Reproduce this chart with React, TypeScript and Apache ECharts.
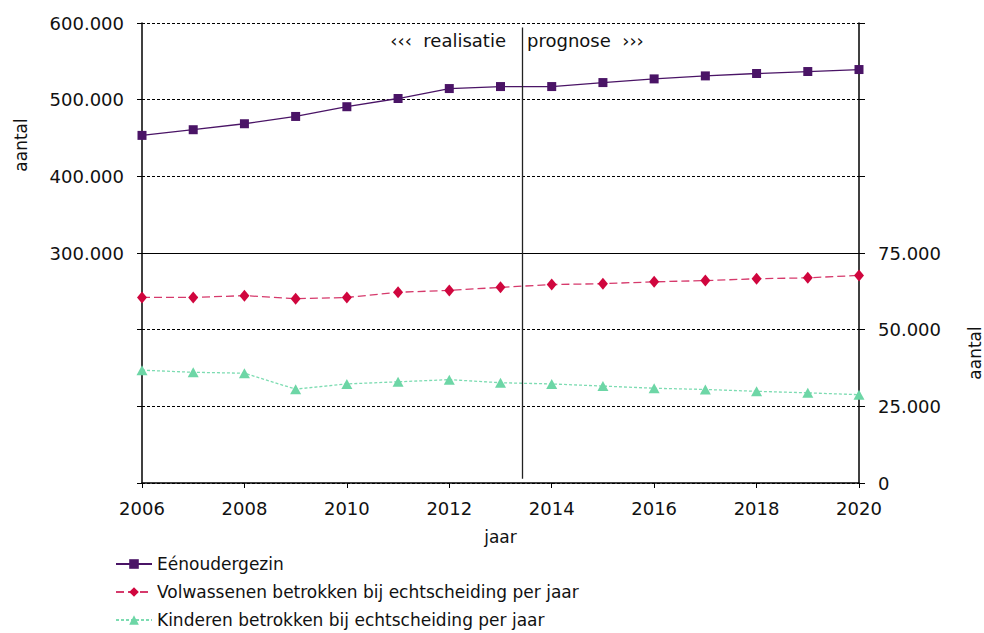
import React, { useEffect, useRef } from "react";
import * as echarts from "echarts";

const years = [2006, 2007, 2008, 2009, 2010, 2011, 2012, 2013, 2014, 2015, 2016, 2017, 2018, 2019, 2020];
const eenoudergezin = [453400, 460800, 468600, 478100, 490800, 501500, 514500, 517100, 517100, 522300, 527100, 531000, 534100, 536700, 539300];
const volwassenen = [60500, 60500, 61100, 60100, 60500, 62200, 62800, 63800, 64700, 65000, 65600, 66000, 66600, 66900, 67700];
const kinderen = [36800, 36100, 35800, 30600, 32300, 33000, 33700, 32700, 32300, 31600, 30900, 30500, 29900, 29400, 28800];
const seriesNames = [
  "Eénoudergezin",
  "Volwassenen betrokken bij echtscheiding per jaar",
  "Kinderen betrokken bij echtscheiding per jaar",
];
const splitYear = 2013.42;
const leftLabelMin = 300000;
const rightLabelMax = 75000;

const FONT = "DejaVu Sans, Verdana, sans-serif";

function fmt(v: number): string {
  const s = Math.round(v).toString();
  return s.replace(/\B(?=(\d{3})+(?!\d))/g, ".");
}

export default function App() {
  const ref = useRef<HTMLDivElement>(null);
  useEffect(() => {
    if (!ref.current) return;
    const chart = echarts.init(ref.current, null, { renderer: "svg" });
    const axisText = { color: "#111", fontFamily: FONT, fontSize: 18 };
    chart.setOption({
      animation: false,
      backgroundColor: "#fff",
      textStyle: { fontFamily: FONT },
      grid: { left: 142, right: 125, top: 23, bottom: 150 },
      legend: {
        orient: "vertical",
        left: 115,
        top: 555,
        padding: 0,
        itemWidth: 36,
        itemHeight: 12,
        itemGap: 10,
        textStyle: { color: "#111", fontFamily: FONT, fontSize: 17, lineHeight: 18 },
        data: seriesNames,
      },
      xAxis: {
        type: "value",
        min: 2006,
        max: 2020,
        interval: 2,
        name: "jaar",
        nameLocation: "middle",
        nameGap: 45,
        nameTextStyle: { color: "#111", fontFamily: FONT, fontSize: 17 },
        axisLine: { show: true, lineStyle: { color: "#000", width: 1.5 } },
        axisTick: { show: true, length: 5, lineStyle: { color: "#000" } },
        axisLabel: { ...axisText, margin: 16, formatter: (v: number) => String(v) },
        splitLine: { show: false },
      },
      yAxis: [
        {
          type: "value",
          min: 0,
          max: 600000,
          interval: 100000,
          position: "left",
          axisLine: { show: true, lineStyle: { color: "#000", width: 1.5 } },
          axisTick: { show: true, length: 5, lineStyle: { color: "#000" } },
          axisLabel: {
            ...axisText,
            margin: 18,
            formatter: (v: number) => (v >= leftLabelMin ? fmt(v) : ""),
          },
          splitLine: { show: true, lineStyle: { color: "#000", type: [3, 2], width: 1 } },
        },
        {
          type: "value",
          min: 0,
          max: 150000,
          interval: 25000,
          position: "right",
          axisLine: { show: true, lineStyle: { color: "#000", width: 1.5 } },
          axisTick: { show: true, length: 6, lineStyle: { color: "#000" } },
          axisLabel: {
            ...axisText,
            margin: 19,
            formatter: (v: number) => (v <= rightLabelMax ? fmt(v) : ""),
          },
          splitLine: { show: false },
        },
      ],
      graphic: [
        {
          type: "text",
          x: 21,
          y: 145,
          rotation: Math.PI / 2,
          style: { text: "aantal", fill: "#111", font: `17px ${FONT}`, align: "center", verticalAlign: "middle" },
        },
        {
          type: "text",
          x: 975,
          y: 353,
          rotation: Math.PI / 2,
          style: { text: "aantal", fill: "#111", font: `17px ${FONT}`, align: "center", verticalAlign: "middle" },
        },
      ],
      series: [
        {
          name: seriesNames[0],
          type: "line",
          yAxisIndex: 0,
          data: years.map((y, i) => [y, eenoudergezin[i]]),
          symbol: "rect",
          symbolSize: 9,
          itemStyle: { color: "#4a1466" },
          lineStyle: { color: "#4a1466", width: 1.3, type: "solid" },
          markLine: {
            silent: true,
            symbol: "none",
            label: { show: false },
            data: [
              { yAxis: 300000, lineStyle: { color: "#000", width: 1.2, type: "solid" } },
              [
                { coord: [splitYear, 594000], lineStyle: { color: "#222", width: 1.3, type: "solid" } },
                { coord: [splitYear, 5500] },
              ],
            ],
          },
          markPoint: {
            silent: true,
            symbol: "circle",
            symbolSize: 0,
            data: [
              {
                coord: [splitYear, 577000],
                label: { show: true, position: "left", distance: 16, formatter: "‹‹‹  realisatie", color: "#111", fontFamily: FONT, fontSize: 18 },
              },
              {
                coord: [splitYear, 577000],
                label: { show: true, position: "right", distance: 5, formatter: "prognose  ›››", color: "#111", fontFamily: FONT, fontSize: 18 },
              },
            ],
          },
        },
        {
          name: seriesNames[1],
          type: "line",
          yAxisIndex: 1,
          data: years.map((y, i) => [y, volwassenen[i]]),
          symbol: "diamond",
          symbolSize: [10, 12],
          itemStyle: { color: "#d0063e" },
          lineStyle: { color: "#d63a6c", width: 1.3, type: [8, 4] },
        },
        {
          name: seriesNames[2],
          type: "line",
          yAxisIndex: 1,
          data: years.map((y, i) => [y, kinderen[i]]),
          symbol: "triangle",
          symbolSize: [11, 10],
          itemStyle: { color: "#6dd6a6" },
          lineStyle: { color: "#7ddcb2", width: 1.3, type: [3, 2] },
        },
      ],
    });
    return () => chart.dispose();
  }, []);
  return <div ref={ref} style={{ position: "fixed", left: 0, top: 0, width: 984, height: 633 }} />;
}
